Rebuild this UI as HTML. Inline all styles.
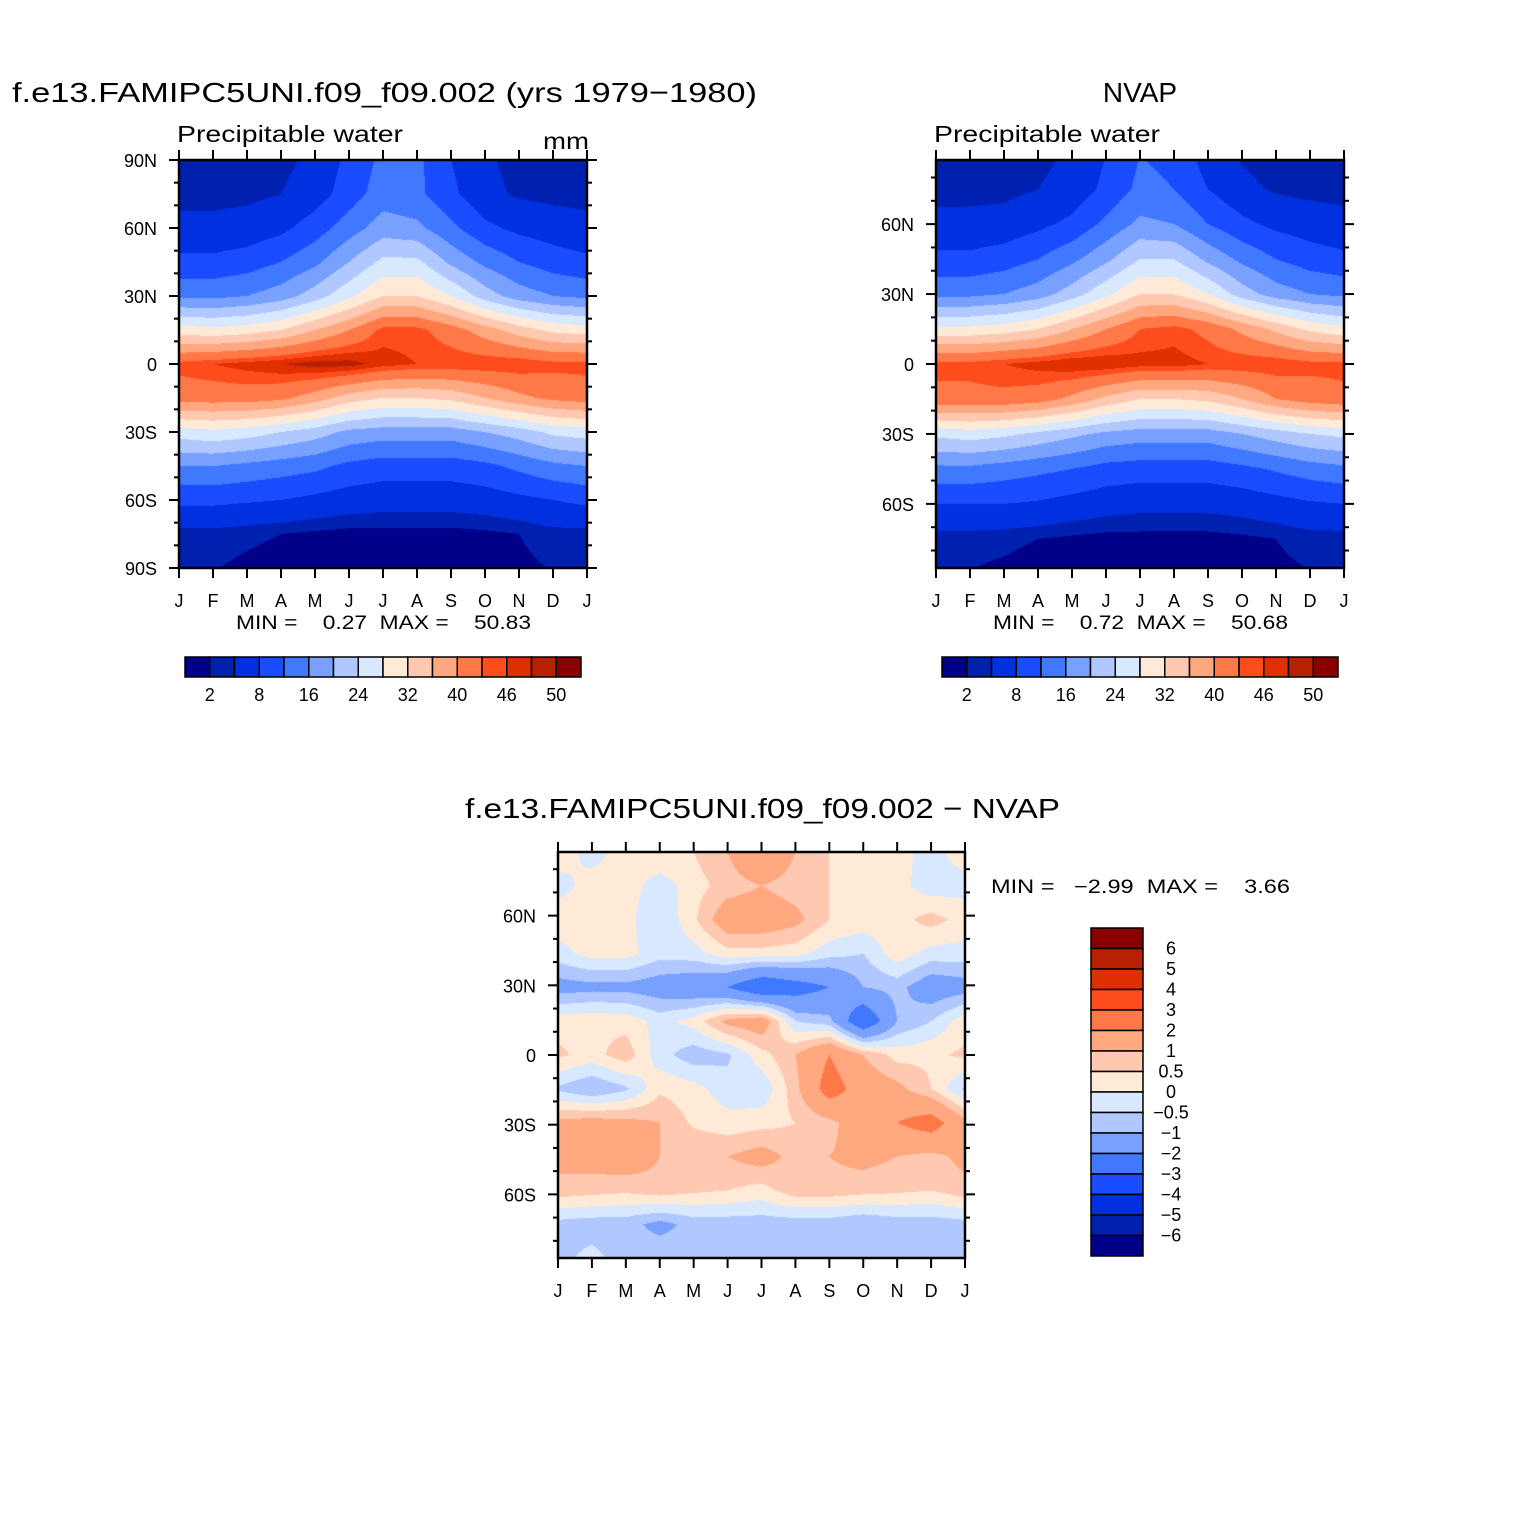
<!DOCTYPE html>
<html><head><meta charset="utf-8"><style>
html,body{margin:0;padding:0;background:#fff}
#wrap{position:relative;width:1524px;height:1524px}
canvas,svg{position:absolute;left:0;top:0}
text{font-family:"Liberation Sans",sans-serif;fill:#000}
</style></head><body>
<div id="wrap">
<canvas id="cv" width="1524" height="1524"></canvas>
<svg id="sv" width="1524" height="1524" xmlns="http://www.w3.org/2000/svg">
<text x="12" y="102" font-size="28" textLength="745" lengthAdjust="spacingAndGlyphs">f.e13.FAMIPC5UNI.f09_f09.002 (yrs 1979−1980)</text>
<text x="177" y="142" font-size="23" textLength="226" lengthAdjust="spacingAndGlyphs">Precipitable water</text>
<text x="543" y="149" font-size="23" textLength="46" lengthAdjust="spacingAndGlyphs">mm</text>
<text x="1140" y="102" font-size="28" text-anchor="middle">NVAP</text>
<text x="934" y="142" font-size="23" textLength="226" lengthAdjust="spacingAndGlyphs">Precipitable water</text>
<text x="465" y="818" font-size="28" textLength="595" lengthAdjust="spacingAndGlyphs">f.e13.FAMIPC5UNI.f09_f09.002 − NVAP</text>
<text x="236" y="629" font-size="19" textLength="295" lengthAdjust="spacingAndGlyphs" xml:space="preserve">MIN =    0.27  MAX =    50.83</text>
<text x="993" y="629" font-size="19" textLength="295" lengthAdjust="spacingAndGlyphs" xml:space="preserve">MIN =    0.72  MAX =    50.68</text>
<text x="991" y="893" font-size="19" textLength="299" lengthAdjust="spacingAndGlyphs" xml:space="preserve">MIN =   −2.99  MAX =    3.66</text>
</svg>
</div>
<script>
const months = ["J","F","M","A","M","J","J","A","S","O","N","D","J"];
const colors = ["#000088","#0020B0","#0030E0","#1A4CFF","#4078FF","#78A0FF","#B0C8FF","#D8E8FF","#FFEAD8","#FFC8B0","#FFA880","#FF7848","#FF4C1C","#E03000","#B82000","#880000"];
const pwLevels = [2,4,8,12,16,20,24,28,32,36,40,44,46,48,50];
const pwLabels = ["2","8","16","24","32","40","46","50"];
const diffLevels = [-6,-5,-4,-3,-2,-1,-0.5,0,0.5,1,2,3,4,5,6];
const diffLabels = ["6","5","4","3","2","1","0.5","0","−0.5","−1","−2","−3","−4","−5","−6"];
const lats = [90,75,60,45,30,15,0,-15,-30,-45,-60,-75,-90];
const modelPW = [
[2.6,2.6,2.7,3,5,9,13,13,8,4.5,3,2.7,2.6],
[3,3,3.2,4,6,10,14,13,9,5,3.5,3,3],
[5,5,5.5,7,10,14,18,17,13,9,7,6,5],
[9,9,10,12,15,20,25,25,19,15,12,10,9],
[15,15,16,18,22,27,32,32,28,22,18,16,15],
[30,29,30,32,36,40,45,45,42,38,34,31,30],
[45,46,47,48,49,49,47,46,46,46,46,45,45],
[42,42,42,41,38,34,32,32,33,36,39,41,42],
[26,27,26,24,22,19,18,18,18,20,22,25,26],
[16,16,15,14,13,11,10,10,10,11,13,15,16],
[9,9,8.5,8,7,6,5.5,5.5,5.5,6,7,8,9],
[3,3,2.5,2,1.5,1.2,1.2,1.2,1.2,1.5,2,3,3],
[2.2,2.1,1.5,1,0.8,0.7,0.7,0.7,0.8,1,1.5,2.1,2.2]];
const obsPW = [
[2.5,2.5,2.6,3,4.5,8,12,11,6,3.5,2.5,2,2],
[3,3,3,4,5.5,9,13,12,8,5,3.5,3,3],
[5,5,5.5,7,9,13,17,16,12,9,7,6,5],
[9,9,10,12,15,19,24,24,19,15,12,10,9],
[15,15,16,18,22,27,32,32,28,22,18,16,15],
[29,29,30,32,36,40,44,45,43,39,35,31,29],
[45,45,46,47,48,48,47,47,46,46,46,45,45],
[43,43,43,42,39,35,32,32,33,36,40,42,43],
[25,26,25,23,21,19,18,18,18,20,22,24,25],
[15,15,14,13,12,10.5,10,10,10,11,12.5,14,15],
[8,8,8,7.5,6.5,5.5,5,5,5,5.5,6.5,7.5,8],
[2.8,2.8,2.5,2,1.5,1.2,1.2,1.2,1.2,1.5,2,2.8,2.8],
[2.1,1.9,1.5,1,0.9,0.8,0.8,0.8,0.9,1,1.5,1.9,2.1]];
const diffLats = [87.5,75,60,45,30,15,0,-15,-30,-45,-60,-75,-87.5];
const diffPW = [
[0.3,-0.2,0.2,0.5,0.5,1,2,1,0.5,0.3,0.2,-0.2,0.3],
[-0.2,0.2,0.3,-0.3,0.3,0.7,1,0.7,0.5,0.4,0.2,-0.3,-0.2],
[0.3,0.3,0.2,-0.5,0.4,1.5,1.5,1.2,0.5,0.3,0.3,0.7,0.3],
[-0.2,0.2,0.2,-0.3,-0.2,0.3,0.3,0.2,-0.3,-0.5,0.3,-0.2,-0.2],
[-1.3,-1.2,-1.2,-1.4,-1.6,-2,-3,-2.5,-2,-1,-0.8,-1.5,-1.3],
[0.3,0.4,0.3,-0.2,0.2,1.2,1.5,-0.5,-0.8,-3,-1,-0.5,0.3],
[0.6,0.3,0.8,-0.3,-0.8,-0.6,0.3,1,2,1,0.3,0.4,0.6],
[-0.6,-1,-0.6,0.4,0.2,-0.3,-0.4,0.8,2.5,1.5,1.2,0.5,-0.6],
[1.2,1.3,1.2,1,0.4,0.2,0.3,0.5,0.8,1.5,2,2.5,1.2],
[1.2,1.3,1.5,1,1,1,1.3,0.8,1,1.2,1,0.8,1.2],
[0.8,0.7,0.6,0.8,0.6,0.5,0.3,0.8,0.8,0.7,0.6,0.5,0.8],
[-0.7,-0.8,-0.8,-1.2,-0.8,-0.8,-0.8,-0.8,-0.8,-1,-0.8,-0.8,-0.7],
[-0.7,-0.3,-0.8,-0.6,-0.8,-0.7,-0.7,-0.8,-0.6,-1,-0.5,-0.8,-0.7]];

const ctx = document.getElementById('cv').getContext('2d');
const svg = document.getElementById('sv');
const NS = "http://www.w3.org/2000/svg";
function mk(tag, attrs, name){const e=document.createElementNS(NS,tag);for(const k in attrs)e.setAttribute(k,attrs[k]);


svg.appendChild(e);return e;}
function levelColor(v, levels){let i=0;while(i<levels.length&&v>=levels[i])i++;return colors[i];}
function hexRGB(h){return [parseInt(h.substr(1,2),16),parseInt(h.substr(3,2),16),parseInt(h.substr(5,2),16)];}

function drawPanel(p){
  const {x0,y0,w,h,data,rowLats,levels,latTop,latBot,yTicks,name}=p;
  const img = ctx.createImageData(w,h);
  const nR=rowLats.length, nC=data[0].length;
  for(let py=0;py<h;py++){
    const lat = latTop - (py+0.5)/h*(latTop-latBot);
    let r = (rowLats[0]-lat)/(rowLats[0]-rowLats[nR-1])*(nR-1);
    r=Math.max(0,Math.min(nR-1.0001,r)); const r0=Math.floor(r), fr=r-r0;
    for(let px=0;px<w;px++){
      let c=(px+0.5)/w*(nC-1); const c0=Math.min(nC-2,Math.floor(c)), fc=c-c0;
      const v=(data[r0][c0]*(1-fc)+data[r0][c0+1]*fc)*(1-fr)+(data[r0+1][c0]*(1-fc)+data[r0+1][c0+1]*fc)*fr;
      const rgb=hexRGB(levelColor(v,levels)); const k=(py*w+px)*4;
      img.data[k]=rgb[0];img.data[k+1]=rgb[1];img.data[k+2]=rgb[2];img.data[k+3]=255;
    }
  }
  ctx.putImageData(img,x0,y0);
  mk('rect',{x:x0,y:y0,width:w,height:h,fill:'none',stroke:'#000','stroke-width':2.5},name+'-frame');
  const dx=w/12;
  for(let i=0;i<=12;i++){
    const x=x0+i*dx;
    mk('line',{x1:x,x2:x,y1:y0+h,y2:y0+h+10,stroke:'#000','stroke-width':2},name+'-x-tick');
    mk('line',{x1:x,x2:x,y1:y0,y2:y0-10,stroke:'#000','stroke-width':2},name+'-x-tick-top');
    const t=mk('text',{x:x,y:y0+h+39,'font-size':18,'text-anchor':'middle'},name+'-x-label');t.textContent=months[i];
  }
  const yOf=lat=>y0+(latTop-lat)/(latTop-latBot)*h;
  for(let lat=-90;lat<=90;lat+=10){
    if(lat>latTop+0.01||lat<latBot-0.01)continue;
    const y=yOf(lat), major=(lat%30===0);
    const L=major?10:5;
    mk('line',{x1:x0-L,x2:x0,y1:y,y2:y,stroke:'#000','stroke-width':2},name+'-y-tick');
    mk('line',{x1:x0+w,x2:x0+w+L,y1:y,y2:y,stroke:'#000','stroke-width':2},name+'-y-tick-right');
    if(major&&yTicks){const lb=lat===0?'0':(Math.abs(lat)+(lat>0?'N':'S'));
      const t=mk('text',{x:x0-22,y:y+7,'font-size':18,'text-anchor':'end'},name+'-y-label');t.textContent=lb;}
  }
}
drawPanel({x0:179,y0:160,w:408,h:408,data:modelPW,rowLats:lats,levels:pwLevels,latTop:90,latBot:-90,yTicks:true,name:'model'});
drawPanel({x0:936,y0:160,w:408,h:408,data:obsPW,rowLats:lats,levels:pwLevels,latTop:87.5,latBot:-87.5,yTicks:true,name:'obs'});
drawPanel({x0:558,y0:852,w:407,h:406,data:diffPW,rowLats:diffLats,levels:diffLevels,latTop:87.4,latBot:-87.4,yTicks:true,name:'diff'});

function hBar(x0,name){
  const bw=396/16;
  for(let i=0;i<16;i++){mk('rect',{x:x0+i*bw,y:657,width:bw,height:20,fill:colors[i],stroke:'#000','stroke-width':1.5},name+'-colorbar-box');}
  for(let j=0;j<pwLabels.length;j++){const t=mk('text',{x:x0+(2*j+1)*bw,y:701,'font-size':18,'text-anchor':'middle'},name+'-colorbar-label');t.textContent=pwLabels[j];}
}
hBar(185,'model');hBar(942,'obs');
const bh=328/16;
for(let i=0;i<16;i++){mk('rect',{x:1091,y:928+i*bh,width:52,height:bh,fill:colors[15-i],stroke:'#000','stroke-width':1.5},'diff-colorbar-box');}
for(let j=0;j<diffLabels.length;j++){const t=mk('text',{x:1171,y:928+(j+1)*bh+6,'font-size':18,'text-anchor':'middle'},'diff-colorbar-label');t.textContent=diffLabels[j];}
</script>
</body></html>
